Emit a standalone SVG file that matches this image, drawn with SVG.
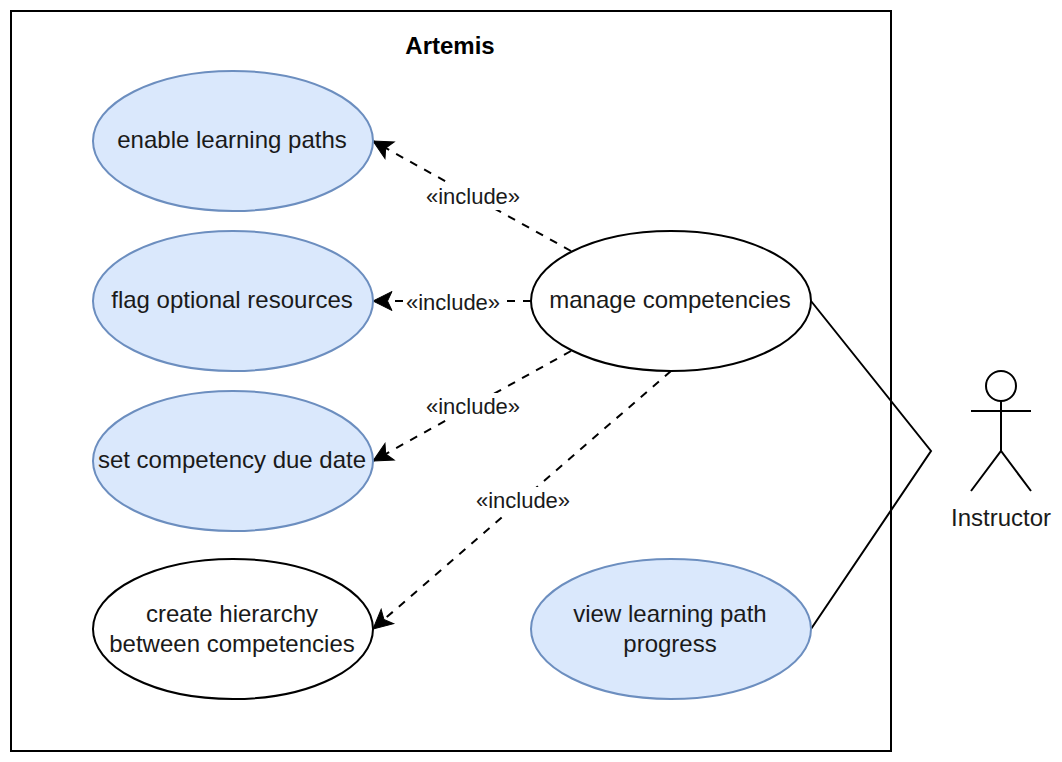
<svg xmlns="http://www.w3.org/2000/svg" width="1062" height="762" viewBox="0 0 1062 762">
<style>
text{font-family:"Liberation Sans",Arial,sans-serif;font-size:24px;fill:#1a1a1a;text-anchor:middle}
.blue{fill:#dae8fc;stroke:#6c8ebf;stroke-width:2}
.plain{fill:#fff;stroke:#000;stroke-width:2}
.line{fill:none;stroke:#000;stroke-width:2}
.dash{fill:none;stroke:#000;stroke-width:2;stroke-dasharray:8 8;marker-end:url(#open)}
.lab{font-size:22px}
.lbg{fill:#fff;stroke:none}
</style>
<defs>
<marker id="open" markerUnits="userSpaceOnUse" markerWidth="24" markerHeight="24" refX="20" refY="10" orient="auto" viewBox="0 0 24 20">
<path d="M20 10 L1 0.5 L5.5 10 L1 19.5 Z" fill="#000" stroke="#000" stroke-width="1"/>
</marker>
</defs>
<rect width="1062" height="762" fill="#fff"/>
<g id="system"><rect x="11" y="11" width="880" height="740" fill="#fff" stroke="#000" stroke-width="2"/><text x="450" y="54" style="font-weight:bold;font-size:24px;fill:#000">Artemis</text></g>
<g id="connectors">
<path class="line" d="M811 301 L931 451 L811 629"/>
<path class="dash" d="M571 251 L373 141"/>
<path class="dash" d="M531 301 L373 301"/>
<path class="dash" d="M571 351 L373 461"/>
<path class="dash" d="M671 371 L373 629"/>
</g>
<g id="connector-labels">
<rect class="lbg" x="424" y="183" width="98" height="27"/><text class="lab" x="473" y="204">«include»</text>
<rect class="lbg" x="404" y="289" width="98" height="26"/><text class="lab" x="453" y="310">«include»</text>
<rect class="lbg" x="424" y="393" width="98" height="27"/><text class="lab" x="473" y="414">«include»</text>
<rect class="lbg" x="474" y="487" width="98" height="27"/><text class="lab" x="523" y="508">«include»</text>
</g>
<g id="enable-learning-paths"><ellipse class="blue" cx="233" cy="141" rx="140" ry="70"/><text x="232" y="148">enable learning paths</text></g>
<g id="flag-optional-resources"><ellipse class="blue" cx="233" cy="301" rx="140" ry="70"/><text x="232" y="308">flag optional resources</text></g>
<g id="set-competency-due-date"><ellipse class="blue" cx="233" cy="461" rx="140" ry="70"/><text x="232" y="468">set competency due date</text></g>
<g id="create-hierarchy"><ellipse class="plain" cx="233" cy="629" rx="140" ry="70"/><text x="232" y="622">create hierarchy</text><text x="232" y="652">between competencies</text></g>
<g id="manage-competencies"><ellipse class="plain" cx="671" cy="301" rx="140" ry="70"/><text x="670" y="308">manage competencies</text></g>
<g id="view-learning-path-progress"><ellipse class="blue" cx="671" cy="629" rx="140" ry="70"/><text x="670" y="622">view learning path</text><text x="670" y="652">progress</text></g>
<g id="instructor">
<circle class="line" cx="1001" cy="386" r="15"/>
<path class="line" d="M1001 401 V451 M971 411 H1031 M971 491 L1001 451 L1031 491"/>
<text x="1001" y="526">Instructor</text>
</g>
</svg>
